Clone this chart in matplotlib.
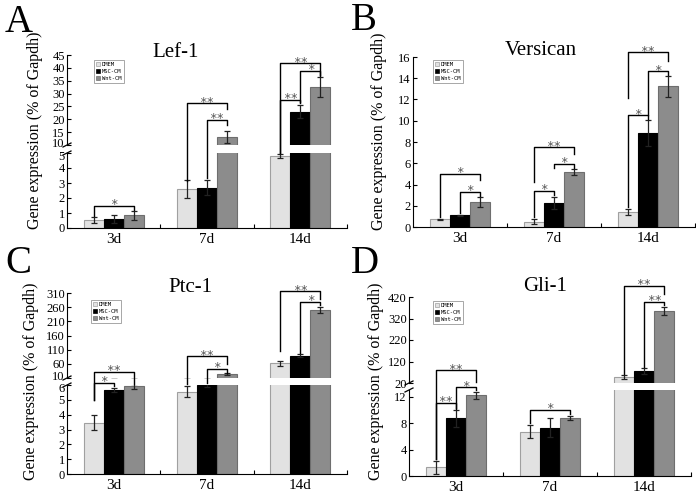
import numpy as np
import matplotlib
matplotlib.use('Agg')
import matplotlib.pyplot as plt
from matplotlib.lines import Line2D
from matplotlib.patches import Patch
from matplotlib.transforms import ScaledTranslation

plt.rcParams['font.family'] = ['Liberation Serif', 'DejaVu Serif']

W, H = 696, 498

groups = ['3d', '7d', '14d']
series = ['DMEM', 'MSC-CM', 'Wnt-CM']
colors = ['#e2e2e2', '#000000', '#8c8c8c']
edges = ['#a0a0a0', '#000000', '#6e6e6e']

# Lef-1
lef_dmem = [0.52, 2.62, 4.8]
lef_msc = [0.58, 2.67, 23.0]
lef_wnt = [0.84, 13.2, 32.5]
lef_dmem_err = [0.2, 0.6, 0.12]
lef_msc_err = [0.26, 0.5, 2.5]
lef_wnt_err = [0.32, 2.3, 3.8]

# Versican
ver_dmem = [0.75, 0.5, 1.4]
ver_msc = [1.1, 2.25, 8.85]
ver_wnt = [2.35, 5.15, 13.25]
ver_dmem_err = [0.05, 0.25, 0.3]
ver_msc_err = [0.05, 0.55, 1.2]
ver_wnt_err = [0.45, 0.3, 1.0]

# Ptc-1
ptc_dmem = [3.45, 5.55, 62]
ptc_msc = [5.65, 5.98, 88]
ptc_wnt = [5.9, 23, 250]
ptc_dmem_err = [0.5, 0.35, 9]
ptc_msc_err = [0.15, 0.1, 5]
ptc_wnt_err = [0.2, 4, 10]

# Gli-1
gli_dmem = [1.3, 6.7, 48]
gli_msc = [8.7, 7.3, 74]
gli_wnt = [12.2, 8.8, 355]
gli_dmem_err = [1.0, 1.0, 8]
gli_msc_err = [1.3, 1.4, 14]
gli_wnt_err = [0.5, 0.3, 18]

# significance brackets: (group, bar i, bar j, bracket height, leg end i, leg end j, label)
lef_sig = [(0, 0, 2, 1.48, 0.8, 1.2, '*'),
           (1, 0, 2, 26.2, 3.15, 24.0, '**'),
           (1, 1, 2, 19.7, 3.35, 17.8, '**'),
           (2, 0, 2, 41.8, 5.0, 37.3, '**'),
           (2, 1, 2, 38.9, 26.8, 37.0, '*'),
           (2, 0, 1, 27.5, 5.0, 26.3, '**')]
ver_sig = [(0, 0, 2, 5.0, 0.95, 4.4, '*'),
           (0, 1, 2, 3.3, 1.3, 2.95, '*'),
           (1, 0, 2, 7.5, 4.2, 6.9, '**'),
           (1, 1, 2, 5.95, 5.6, 5.6, '*'),
           (1, 0, 1, 3.4, 0.95, 3.05, '*'),
           (2, 0, 2, 16.45, 12.1, 15.6, '**'),
           (2, 1, 2, 14.65, 10.5, 14.35, '*'),
           (2, 0, 1, 10.5, 1.9, 10.2, '*')]
ptc_sig = [(0, 0, 2, 32, 5.0, 6.1, '**'),
           (0, 0, 1, 6.15, 5.0, 5.9, '*'),
           (1, 0, 2, 86, 6.05, 58, '**'),
           (1, 1, 2, 43, 6.15, 29, '*'),
           (2, 0, 2, 316, 104, 290, '**'),
           (2, 1, 2, 278, 99, 266, '*')]
gli_sig = [(0, 0, 2, 80, 2.5, 26, '**'),
           (0, 1, 2, 13.4, 10.2, 13.0, '*'),
           (0, 0, 1, 11.1, 2.5, 10.3, '**'),
           (1, 0, 2, 10.0, 8.0, 9.4, '*'),
           (2, 0, 2, 471, 62, 435, '**'),
           (2, 1, 2, 399, 95, 382, '**')]

BW = 0.214

fig = plt.figure(figsize=(W / 100, H / 100), dpi=100)


def rect(x0, x1, y_top, y_bot):
    return [x0 / W, 1 - y_bot / H, (x1 - x0) / W, (y_bot - y_top) / H]


def style_y(ax, lim, ticks):
    ax.set_ylim(*lim)
    ax.set_yticks(ticks)
    ax.spines[['top', 'right']].set_visible(False)
    for s in ax.spines.values():
        s.set_linewidth(0.8)
    ax.tick_params(axis='y', direction='in', length=3, width=0.8, labelsize=9, pad=1.5)


def style_x(ax):
    ax.set_xticks(range(3))
    ax.set_xticklabels(groups, fontsize=11)
    ax.tick_params(axis='x', length=0, pad=3.5)
    ax.set_xticks([0.5, 1.5, 2.5], minor=True)
    ax.tick_params(axis='x', which='minor', direction='in', length=3, width=0.8)


def nudge(label, dy):
    # move one tick label by dy points
    label.set_transform(label.get_transform() + ScaledTranslation(0, dy / 72, fig.dpi_scale_trans))


def make_panel(x0, x1, parts):
    axes = []
    for i, (yt, yb, lim, ticks) in enumerate(parts):
        ax = fig.add_axes(rect(x0, x1, yt, yb))
        ax.set_xlim(-0.5, 2.5)
        style_y(ax, lim, ticks)
        if i < len(parts) - 1:
            ax.spines['bottom'].set_visible(False)
            ax.set_xticks([])
        else:
            style_x(ax)
        if i > 0:
            ax.spines['top'].set_visible(False)
        axes.append(ax)
    if len(axes) == 2 and parts[1][3][-1] == parts[1][2][1]:
        nudge(axes[0].yaxis.get_major_ticks()[0].label1, 1.5)
        nudge(axes[1].yaxis.get_major_ticks()[-1].label1, -1.5)
    return axes


def draw_bars(axes, means, errs):
    x = np.arange(3)
    for ax in axes:
        for k in range(3):
            ax.bar(x + (k - 1) * BW, means[k], BW, yerr=errs[k], color=colors[k],
                   edgecolor=edges[k], linewidth=0.8,
                   error_kw=dict(ecolor='#222222', elinewidth=0.9, capsize=2.2, capthick=0.9))


def to_disp(axes, x, y):
    ax = axes[0]
    if len(axes) == 2 and y < axes[0].get_ylim()[0]:
        ax = axes[1]
    return ax.transData.transform((x, y))


def draw_sig(axes, sig):
    inv = fig.transFigure.inverted()
    for g, i, j, ytop, yi, yj, label in sig:
        xi = g + (i - 1) * BW
        xj = g + (j - 1) * BW
        pts = np.array([to_disp(axes, xi, yi), to_disp(axes, xi, ytop),
                        to_disp(axes, xj, ytop), to_disp(axes, xj, yj)])
        f = inv.transform(pts)
        fig.add_artist(Line2D(f[:, 0], f[:, 1], transform=fig.transFigure,
                              color='black', lw=1.0))
        cx = (pts[1, 0] + pts[2, 0]) / 2
        cy = pts[1, 1] - 2.4
        fc = inv.transform((cx, cy))
        fig.text(fc[0], fc[1], label, ha='center', va='baseline', fontsize=9,
                 family='DejaVu Sans Mono', color='#555555')


def draw_break(axes):
    inv = fig.transFigure.inverted()
    up, lo = axes
    for ax, yv in ((up, up.get_ylim()[0]), (lo, lo.get_ylim()[1])):
        p = ax.transData.transform((-0.5, yv))
        seg = inv.transform([(p[0] - 4, p[1] - 2), (p[0] + 4, p[1] + 2)])
        fig.add_artist(Line2D(seg[:, 0], seg[:, 1], transform=fig.transFigure,
                              color='black', lw=0.9))


def add_legend(x, y):
    handles = [Patch(facecolor=c, edgecolor=e, linewidth=0.5) for c, e in zip(colors, edges)]
    leg = fig.legend(handles, series, loc='upper left', bbox_to_anchor=(x / W, 1 - y / H),
                     bbox_transform=fig.transFigure, prop=dict(family='DejaVu Sans Mono', size=4),
                     borderpad=0.4, labelspacing=0.35, handlelength=0.8, handleheight=0.8,
                     handletextpad=0.3, fancybox=False, edgecolor='#999999', framealpha=1)
    leg.get_frame().set_linewidth(0.6)


def labels(letter, lx, ly, title, tx, ty, yx, yy):
    fig.text(lx / W, 1 - ly / H, letter, fontsize=28, va='baseline', ha='left')
    fig.text(tx / W, 1 - ty / H, title, fontsize=15, va='baseline', ha='center')
    fig.text(yx / W, 1 - yy / H, 'Gene expression (% of Gapdh)', rotation=90,
             fontsize=11.5, ha='center', va='center')


# A: Lef-1
axA = make_panel(67, 347, [(55, 145, (10, 45), np.arange(10, 46, 5)),
                           (153, 228, (0, 5), np.arange(0, 6, 1))])
draw_bars(axA, [lef_dmem, lef_msc, lef_wnt], [lef_dmem_err, lef_msc_err, lef_wnt_err])
draw_break(axA)
draw_sig(axA, lef_sig)
add_legend(91, 57)
labels('A', 5, 32, 'Lef-1', 176, 57, 35, 130)

# B: Versican
axB = make_panel(413, 695, [(57, 227, (0, 16), np.arange(0, 17, 2))])
draw_bars(axB, [ver_dmem, ver_msc, ver_wnt], [ver_dmem_err, ver_msc_err, ver_wnt_err])
draw_sig(axB, ver_sig)
add_legend(430, 57)
labels('B', 351, 30, 'Versican', 541, 55, 379, 131)

# C: Ptc-1
axC = make_panel(67, 347, [(293, 378, (10, 310), np.arange(10, 311, 50)),
                           (385, 474, (0, 6), np.arange(0, 7, 1))])
draw_bars(axC, [ptc_dmem, ptc_msc, ptc_wnt], [ptc_dmem_err, ptc_msc_err, ptc_wnt_err])
draw_break(axC)
draw_sig(axC, ptc_sig)
add_legend(88, 297)
labels('C', 5, 273, 'Ptc-1', 190, 292, 31, 381)

# D: Gli-1
axD = make_panel(409, 691, [(297, 383, (20, 420), np.arange(20, 421, 100)),
                            (390, 476, (0, 13), [0, 4, 8, 12])])
draw_bars(axD, [gli_dmem, gli_msc, gli_wnt], [gli_dmem_err, gli_msc_err, gli_wnt_err])
draw_break(axD)
draw_sig(axD, gli_sig)
add_legend(430, 298)
labels('D', 351, 273, 'Gli-1', 545, 291, 376, 381)

fig.savefig('out.png', dpi=100)
